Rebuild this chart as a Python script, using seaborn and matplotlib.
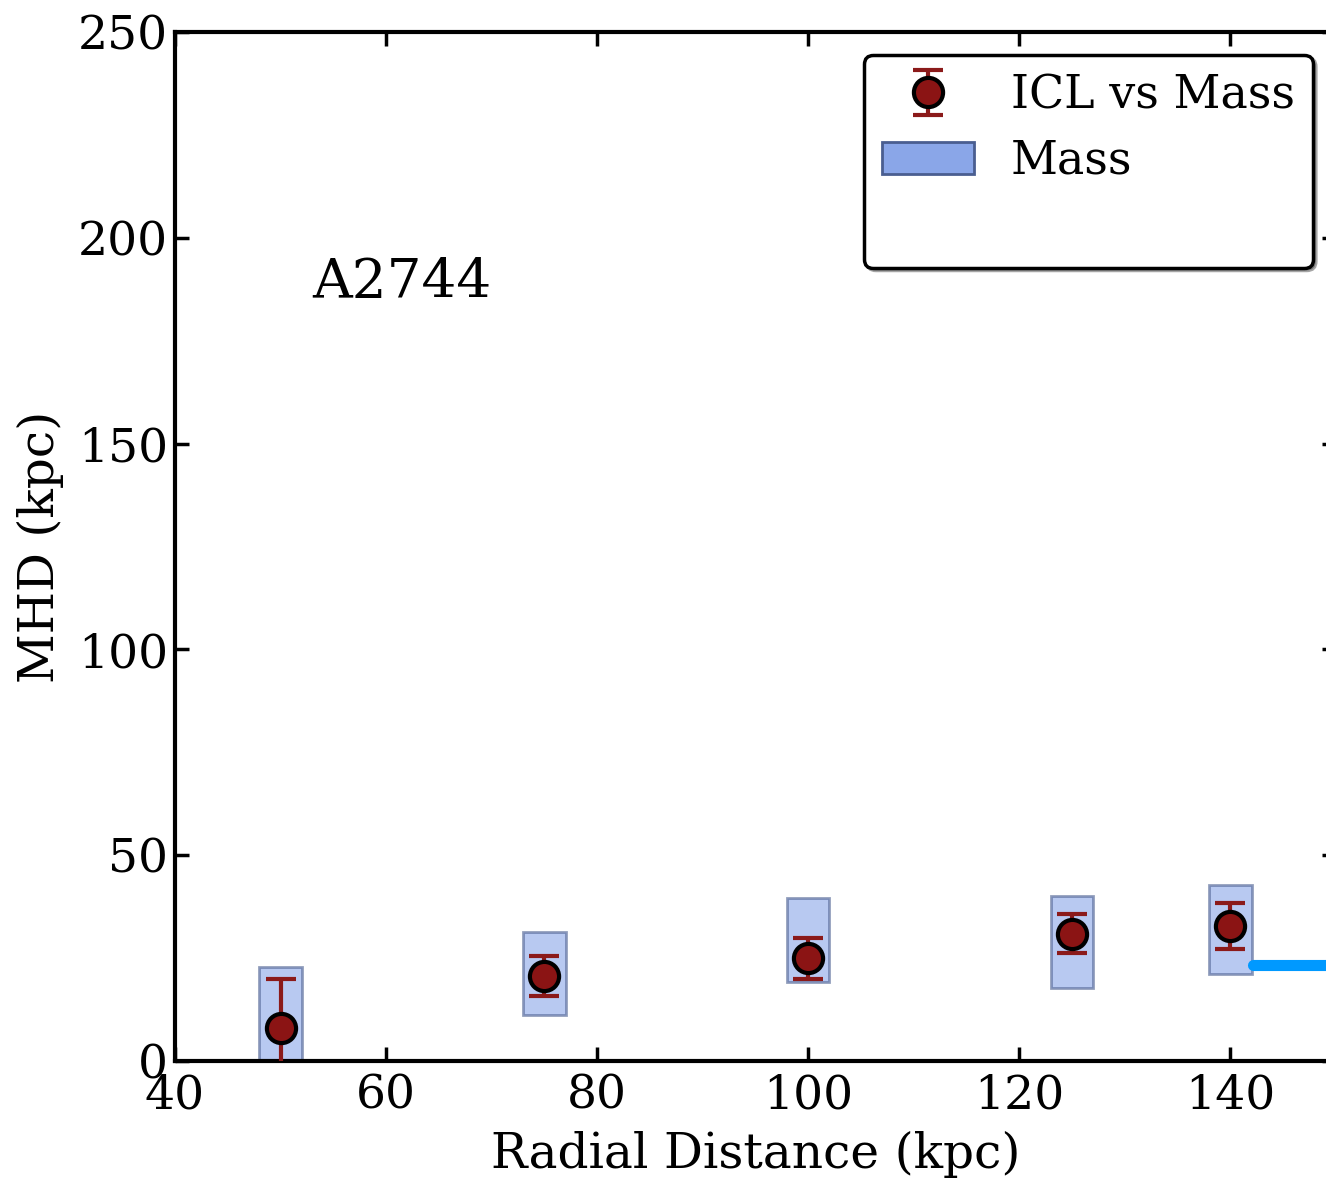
import numpy as np
import pandas as pd
import seaborn as sns
import matplotlib.pyplot as plt
from matplotlib.patches import Patch
from matplotlib.lines import Line2D

# data
radius = [50, 75, 100, 125, 140]
icl_mhd = [8.0, 20.7, 25.0, 30.9, 32.8]
icl_err = [12.0, 4.9, 5.0, 4.7, 5.6]
mass_low = [-3.0, 11.2, 19.2, 17.7, 21.1]
mass_high = [22.8, 31.3, 39.6, 40.1, 42.8]
line_x = [142.1, 155.0]
line_y = [23.3, 23.3]

sns.set_style("ticks")
plt.rcParams['font.family'] = ['DejaVu Serif']
plt.rcParams['text.color'] = 'black'
plt.rcParams['axes.labelcolor'] = 'black'

fig = plt.figure(figsize=(13.26, 11.82), dpi=100)
ax = fig.add_axes([175 / 1326, 121 / 1182, (1336 - 175) / 1326, (1061 - 32) / 1182])

# mass boxes
heights = np.array(mass_high) - np.array(mass_low)
ax.bar(radius, heights, width=4, bottom=mass_low, color='#8aa6e8',
       edgecolor='#4a5e90', linewidth=2, alpha=0.6, zorder=2)

# blue level line
sns.lineplot(x=line_x, y=line_y, color='#0099ff', linewidth=8, ax=ax, zorder=2)

# ICL points
eb = ax.errorbar(radius, icl_mhd, yerr=icl_err, fmt='o', color='#8b1a1a',
                 markerfacecolor='#8b1414', markeredgecolor='black',
                 markeredgewidth=3, markersize=21, elinewidth=3, capsize=11,
                 capthick=3, zorder=3)

ax.set_xlim(40, 150)
ax.set_ylim(0, 250)
ax.set_xticks([40, 60, 80, 100, 120, 140])
ax.set_yticks([0, 50, 100, 150, 200, 250])

for s in ax.spines.values():
    s.set_linewidth(3)
    s.set_color('black')
ax.tick_params(direction='in', length=10, width=2.5, labelsize=34,
               top=True, right=True, colors='black')
ax.tick_params(axis='x', pad=9)
ax.tick_params(axis='y', pad=5)

ax.set_xlabel('Radial Distance (kpc)', fontsize=35, labelpad=9)
ax.set_ylabel('MHD (kpc)', fontsize=35, labelpad=10)

ax.text(53, 189, 'A2744', fontsize=39.5, va='center', ha='left')

handles = [
    eb,
    Patch(facecolor='#8aa6e8', edgecolor='#4a5e90', linewidth=2),
    Line2D([], [], linestyle='none'),
]
leg = ax.legend(handles, ['ICL vs Mass', 'Mass', ' '], loc='upper right',
                fontsize=33, numpoints=1, fancybox=True, shadow=True,
                framealpha=1, borderaxespad=0.5, labelspacing=0.44)
leg.get_frame().set_edgecolor('black')
leg.get_frame().set_linewidth(2.5)

fig.savefig('out.png', dpi=100)
